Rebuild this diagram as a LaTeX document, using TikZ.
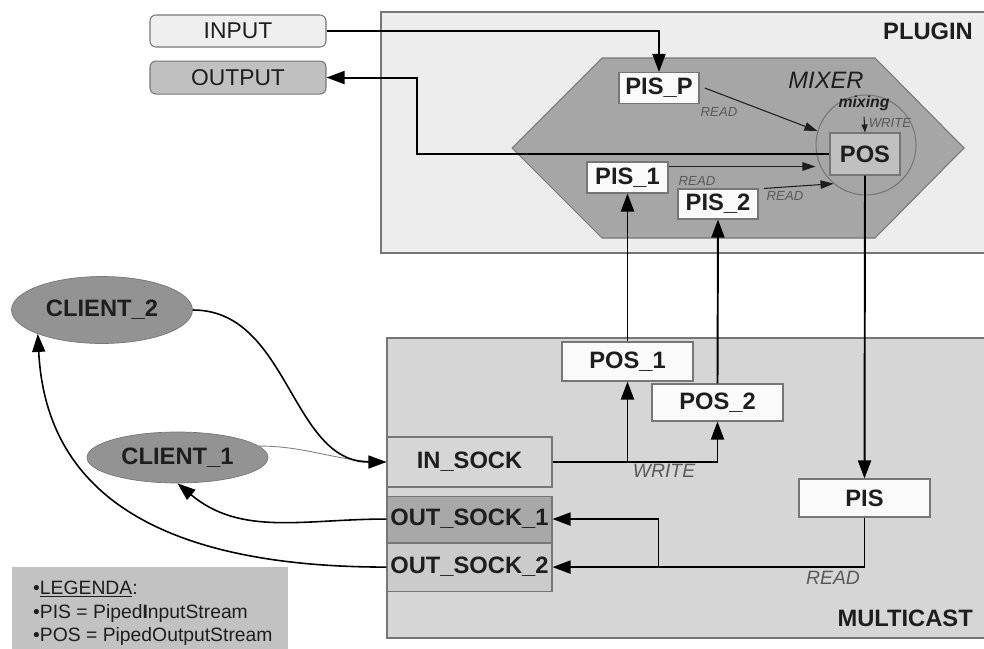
\documentclass[tikz,border=0pt]{standalone}
\usepackage{fontspec}
\setmainfont{Liberation Sans}
\usetikzlibrary{arrows.meta,positioning,shapes.geometric}
\definecolor{plugbg}{HTML}{EDEDED}
\definecolor{castbg}{HTML}{D6D6D6}
\definecolor{mixbg}{HTML}{A6A6A6}
\definecolor{posbg}{HTML}{C0C0C0}
\definecolor{clientbg}{HTML}{939393}
\definecolor{sockdark}{HTML}{A8A8A8}
\definecolor{socklight}{HTML}{CBCBCB}
\definecolor{legbg}{HTML}{C2C2C2}
\definecolor{boxwhite}{HTML}{FAFAFA}
\definecolor{inputbg}{HTML}{EFEFEF}
\definecolor{frame}{HTML}{767676}
\definecolor{darktext}{HTML}{1E1E1E}
\definecolor{tagtext}{HTML}{5A5A5A}
\newcommand\lblfont{\bfseries\fontsize{13.5}{16}\selectfont}

\begin{document}
\begin{tikzpicture}
    [x=0.02cm, y=-0.02cm,
    conn/.style={line width=1.1pt, -{Triangle[length=0.36cm, width=0.26cm]}},
    thinconn/.style={line width=0.6pt, draw=darktext, -{Triangle[length=0.26cm, width=0.17cm]}},
    stream/.style={draw=frame, line width=0.6pt, fill=boxwhite, inner sep=0pt, text=darktext, font=\lblfont},
    iobox/.style={stream, rounded corners=0.12cm, minimum width=3.52cm, font=\fontsize{13}{15}\selectfont},
    sock/.style={stream, minimum width=3.3cm},
    client/.style={ellipse, draw=frame, fill=clientbg, inner sep=0pt, minimum width=3.62cm, text=darktext, font=\lblfont},
    tag/.style={text=tagtext, font=\itshape\fontsize{7.5}{9}\selectfont},
    bigtag/.style={text=tagtext, font=\itshape\fontsize{11}{13}\selectfont},
    title/.style={anchor=east, text=darktext, font=\lblfont},
    legtext/.style={anchor=base west, text=darktext, font=\fontsize{11}{13}\selectfont}]
        \useasboundingbox (0,0) rectangle (984,649);

        % Plugin
        \draw[draw=frame, fill=plugbg, line width=0.8pt] (381,12) rectangle (995,253);
        \node[title] (plugin) at (979,31) {PLUGIN};
        \draw[draw=frame, fill=mixbg, line width=0.6pt] (512,148) -- (602,58) -- (875,58) -- (964,148) -- (875,238) -- (602,238) -- cycle;
        \node[text=darktext, font=\itshape\fontsize{13.5}{16}\selectfont] (mixer) at (826,80) {MIXER};
        \node[circle, draw=frame, line width=0.6pt, minimum size=2cm, inner sep=0pt] (mixcirc) at (866,145) {};
        \node[text=darktext, font=\bfseries\itshape\fontsize{9}{11}\selectfont] (mixing) at (864,103) {mixing};

        \node[stream, minimum width=1.6cm, minimum height=0.62cm] (pisp) at (659,88) {PIS\_P};
        \node[stream, fill=posbg, minimum width=1.4cm, minimum height=0.84cm] (pos) at (865,154) {POS};
        \node[stream, minimum width=1.62cm, minimum height=0.62cm] (pis1) at (627.5,177.5) {PIS\_1};
        \node[stream, minimum width=1.6cm, minimum height=0.6cm] (pis2) at (718,204) {PIS\_2};

        \node[tag] (readp) at (719,112) {READ};
        \node[tag] (read1) at (697,181) {READ};
        \node[tag] (read2) at (785,196) {READ};
        \node[tag] (writemix) at (890,123) {WRITE};

        % Input / output
        \node[iobox, fill=inputbg, minimum height=0.64cm] (input) at (238,31) {INPUT};
        \node[iobox, fill=posbg, minimum height=0.66cm, below=0.26cm of input] (output) {OUTPUT};

        % Multicast
        \draw[draw=frame, fill=castbg, line width=0.8pt] (387,338) rectangle (995,638);
        \node[title] (multicast) at (979,618) {MULTICAST};

        \node[stream, minimum width=2.62cm, minimum height=0.78cm] (pos1) at (627.5,361.5) {POS\_1};
        \node[stream, minimum width=2.62cm, minimum height=0.74cm] (pos2) at (717.5,402.5) {POS\_2};
        \node[sock, fill=castbg, minimum height=1cm] (insock) at (469.5,462) {IN\_SOCK};
        \node[sock, fill=sockdark, minimum height=0.92cm, below=0.16cm of insock] (outsock1) {OUT\_SOCK\_1};
        \node[sock, fill=socklight, minimum height=0.96cm, below=0pt of outsock1] (outsock2) {OUT\_SOCK\_2};
        \node[stream, minimum width=2.62cm, minimum height=0.76cm] (pis) at (864.5,498) {PIS};

        \node[bigtag] (writecast) at (664,471) {WRITE};
        \node[bigtag] (readcast) at (833,578) {READ};

        % Clients
        \node[client, minimum height=1.34cm] (client2) at (102,310) {CLIENT\_2};
        \node[client, minimum height=1.02cm] (client1) at (177.5,457.5) {CLIENT\_1};

        % Legend
        \fill[legbg] (12,567) rectangle (288,655);
        \node[legtext] (leg1) at (27,594) {•\underline{LEGENDA}:};
        \node[legtext] (leg2) at (27,618) {•PIS = Piped\textbf{I}nputStream};
        \node[legtext] (leg3) at (27,641) {•POS = PipedOutputStream};

        % Streams inside the plugin
        \coordinate (outx) at (417,0);
        \draw[conn] (input.east) -| (pisp.north);
        \draw[conn] (pos.west) -| (outx |- output.east) -- (output.east);
        \draw[thinconn] ([xshift=3pt]pisp.east) -- (mixcirc.164);
        \draw[thinconn] (pis1.15) -- (pis1.15 -| mixcirc.west);
        \draw[thinconn] ([xshift=3pt]pis2.north east) -- (mixcirc.230);
        \draw[thinconn, -{Triangle[length=0.16cm, width=0.12cm]}] (mixing.south) -- (pos.north);

        % Streams between plugin and multicast
        \draw[conn] (pos.south) -- (pis.north);
        \draw[conn] (pos1.north) -- (pis1.south);
        \draw[conn] (pos2.north) -- (pis2.south);

        \coordinate (writesplit) at (pos1.south |- insock.east);
        \draw[conn] (insock.east) -| (pos2.south);
        \draw[conn] (writesplit) -- (pos1.south);

        \path (outsock2.east) ++(106,0) coordinate (readsplit);
        \draw[conn] (pis.south) |- (outsock2.east);
        \draw[conn] (readsplit) |- (outsock1.east);

        % Sockets and clients
        \draw[line width=0.5pt, draw=gray] (client1.8) to[out=0, in=180] (insock.west);
        \draw[conn, line width=0.9pt] (client2.east) to[out=0, in=180] (insock.west);
        \draw[conn, line width=0.9pt] (outsock1.west) to[out=180, in=-40] (client1.south);
        \draw[conn, line width=0.9pt] (outsock2.west) to[out=180, in=-87, out looseness=1.75, in looseness=0.7] (client2.south west);
\end{tikzpicture}
\end{document}
